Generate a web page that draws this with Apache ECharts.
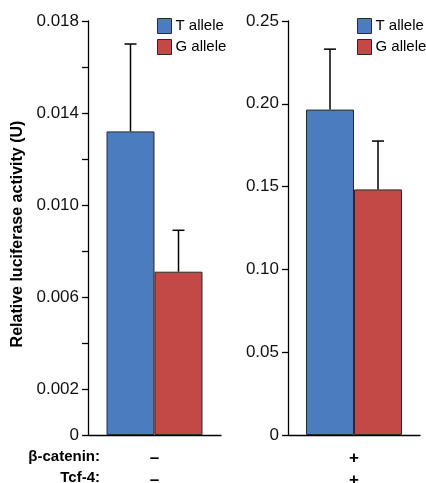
<!DOCTYPE html>
<html>
<head>
<meta charset="utf-8">
<script src="https://cdn.jsdelivr.net/npm/echarts@6/dist/echarts.min.js"></script>
<style>html,body{margin:0;padding:0;background:#fff;}#c{width:426px;height:483px;}</style>
</head>
<body>
<div id="c"></div>
<script>
// ---- data ----
const seriesNames = ['T allele', 'G allele'];
const rowLabels = ['β-catenin:', 'Tcf-4:'];
const conditionLeft = ['–', '–'];
const conditionRight = ['+', '+'];
const leftMeans = [0.0132, 0.0071];
const leftErrors = [0.0038, 0.0018];
const rightMeans = [0.1965, 0.1483];
const rightErrors = [0.0365, 0.0292];
const leftTickLabels = ['0', '0.002', '0.006', '0.010', '0.014', '0.018'];
const rightTickLabels = ['0', '0.05', '0.10', '0.15', '0.20', '0.25'];
const yTitle = 'Relative luciferase activity (U)';

// ---- style ----
const FONT = '"Liberation Sans", Arial, Helvetica, sans-serif';
const COLORS = ['#4a7cbf', '#c34946'];
const BAR_W = 48;
const CAP_W = 12;

function fmtLabel(list, decimals) {
  return function (v) {
    const s = v === 0 ? '0' : v.toFixed(decimals);
    return list.indexOf(s) >= 0 ? s : '';
  };
}

function yAxisCfg(gridIndex, max, interval, labels, decimals, withName) {
  const cfg = {
    type: 'value', gridIndex: gridIndex, min: 0, max: max, interval: interval,
    axisLine: { show: true, lineStyle: { color: '#000', width: 1.3 } },
    axisTick: { show: true, length: 6, lineStyle: { color: '#000', width: 1.3 } },
    axisLabel: { color: '#111', fontSize: 17, fontFamily: FONT, margin: 9, formatter: fmtLabel(labels, decimals) },
    splitLine: { show: false }
  };
  if (withName) {
    Object.assign(cfg, {
      name: yTitle, nameLocation: 'middle', nameRotate: 90, nameGap: 62,
      nameTextStyle: { fontSize: 16, fontWeight: 'bold', fontFamily: FONT, color: '#000', padding: [0, 12, 0, 0] }
    });
  }
  return cfg;
}

function xAxisCfg(gridIndex, cond) {
  return {
    type: 'category', gridIndex: gridIndex, data: [cond.join('\n')],
    axisLine: { show: true, lineStyle: { color: '#000', width: 1.3 } },
    axisTick: { show: false },
    axisLabel: { color: '#000', fontSize: 17, fontWeight: 'bold', fontFamily: FONT, lineHeight: 22, margin: 12 }
  };
}

function barSeries(axisIdx, means) {
  return seriesNames.map(function (name, i) {
    return {
      type: 'bar', name: name, xAxisIndex: axisIdx, yAxisIndex: axisIdx,
      barWidth: BAR_W, barGap: '0%',
      itemStyle: { color: COLORS[i], borderColor: '#2a2a2a', borderWidth: 1 },
      data: [means[i]]
    };
  });
}

function errSeries(axisIdx, means, errs) {
  return {
    type: 'custom', xAxisIndex: axisIdx, yAxisIndex: axisIdx, z: 5,
    data: means.map(function (m, i) { return [0, m, errs[i], i]; }),
    renderItem: function (params, api) {
      const cat = api.value(0), m = api.value(1), e = api.value(2), k = api.value(3);
      const base = api.coord([cat, m]);
      const top = api.coord([cat, m + e]);
      const x = base[0] + (k === 0 ? -BAR_W / 2 : BAR_W / 2);
      const st = { stroke: '#000', lineWidth: 1.5 };
      return {
        type: 'group', children: [
          { type: 'line', shape: { x1: x, y1: base[1], x2: x, y2: top[1] }, style: st },
          { type: 'line', shape: { x1: x - CAP_W / 2, y1: top[1], x2: x + CAP_W / 2, y2: top[1] }, style: st }
        ]
      };
    }
  };
}

function legendCfg(left) {
  return {
    left: left, top: 13, orient: 'vertical', icon: 'rect',
    itemWidth: 14, itemHeight: 15, itemGap: 5,
    data: seriesNames,
    itemStyle: { borderColor: '#2a2a2a', borderWidth: 1 },
    textStyle: { fontSize: 15, fontFamily: FONT, color: '#000', padding: [0, 0, 0, -1] }
  };
}

const chart = echarts.init(document.getElementById('c'), null, { renderer: 'canvas' });
chart.setOption({
  backgroundColor: '#fff',
  animation: false,
  grid: [
    { left: 88, top: 21, width: 133, height: 414, containLabel: false, outerBoundsMode: 'none' },
    { left: 288, top: 21, width: 132, height: 414, containLabel: false, outerBoundsMode: 'none' }
  ],
  legend: [legendCfg(152), legendCfg(352)],
  xAxis: [xAxisCfg(0, conditionLeft), xAxisCfg(1, conditionRight)],
  yAxis: [
    yAxisCfg(0, 0.018, 0.002, leftTickLabels, 3, true),
    yAxisCfg(1, 0.25, 0.05, rightTickLabels, 2, false)
  ],
  series: [].concat(
    barSeries(0, leftMeans), [errSeries(0, leftMeans, leftErrors)],
    barSeries(1, rightMeans), [errSeries(1, rightMeans, rightErrors)]
  ),
  graphic: rowLabels.map(function (t, i) {
    return {
      type: 'text', x: 100, y: 457 + i * 21,
      style: {
        text: t, align: 'right', verticalAlign: 'middle', fontSize: 15, fontWeight: 'bold',
        fontFamily: FONT, fill: '#000'
      }
    };
  })
});
</script>
</body>
</html>
